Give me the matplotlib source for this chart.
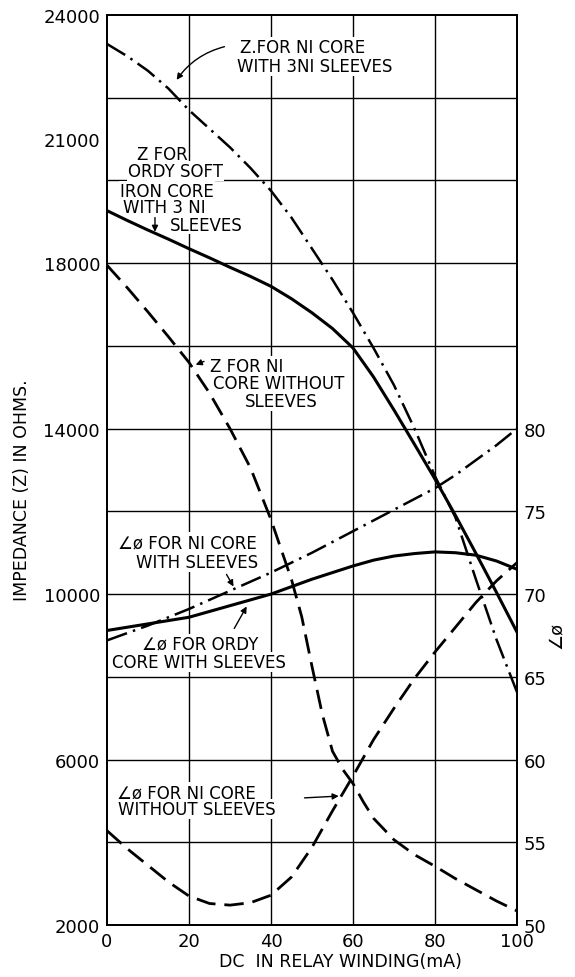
import numpy as np
import matplotlib.pyplot as plt

# DC in relay winding (mA)
ma = [0, 5, 10, 15, 20, 25, 30, 35, 40, 45, 50, 55, 60, 65, 70, 75, 80, 85, 90, 95, 100]

# impedance curves (ohms)
z_ni_3ni = [23300, 23000, 22650, 22220, 21700, 21250, 20800, 20300, 19750, 19100, 18350,
            17600, 16800, 15950, 15050, 14000, 12850, 11850, 10350, 8900, 7630]
z_ordy_3ni = [19270, 19030, 18800, 18580, 18350, 18130, 17900, 17680, 17440, 17140, 16800,
              16420, 15950, 15250, 14450, 13620, 12780, 11900, 10980, 10040, 9080]
ma_ni_bare = [0, 5, 10, 15, 20, 25, 30, 35, 40, 45, 47.5, 50, 52.5, 55, 57.5, 60, 62.5, 65,
              70, 75, 80, 85, 90, 95, 100]
z_ni_bare = [17950, 17400, 16820, 16220, 15600, 14860, 14000, 13050, 11800, 10350, 9450, 8250,
             7100, 6200, 5760, 5420, 4980, 4580, 4060, 3700, 3420, 3120, 2850, 2580, 2340]

# phase angle curves (degrees)
ang_ni_sl = [67.2, 67.65, 68.1, 68.6, 69.1, 69.65, 70.2, 70.75, 71.3, 71.9, 72.5,
             73.15, 73.8, 74.45, 75.1, 75.75, 76.4, 77.2, 78.1, 79.0, 80.0]
ang_ordy_sl = [67.8, 68.0, 68.2, 68.4, 68.6, 68.95, 69.3, 69.65, 70.0, 70.45, 70.9,
               71.3, 71.7, 72.05, 72.3, 72.45, 72.55, 72.5, 72.35, 72.0, 71.5]
ang_ni_bare = [55.7, 54.6, 53.6, 52.6, 51.75, 51.3, 51.2, 51.35, 51.8, 52.9, 54.7,
               56.9, 59.0, 61.2, 63.1, 64.9, 66.5, 68.0, 69.5, 70.8, 71.9]

z_ticks = [2000, 6000, 10000, 14000, 18000, 21000, 24000]
ang_ticks = [50, 55, 60, 65, 70, 75, 80]
ma_ticks = [0, 20, 40, 60, 80, 100]

plt.rcParams['font.family'] = ['DejaVu Sans']

fig = plt.figure(figsize=(5.75, 9.78), dpi=100)
ax = fig.add_axes([107 / 575, 52 / 978, 410 / 575, 910 / 978])
ax.set_xlim(0, 100)
ax.set_ylim(2000, 24000)

# grid
for v in range(4000, 24000, 2000):
    ax.axhline(v, color='black', lw=1.0, zorder=1)
for v in range(20, 100, 20):
    ax.axvline(v, color='black', lw=1.0, zorder=1)

dashdot = (0, (8.5, 2.5, 1, 2.5))
dashed = (0, (7, 3.2))

ax.plot(ma, z_ni_3ni, color='black', lw=1.8, linestyle=dashdot, zorder=3)
ax.plot(ma, z_ordy_3ni, color='black', lw=2.2, zorder=3)
ax.plot(ma_ni_bare, z_ni_bare, color='black', lw=2.0, linestyle=dashed, zorder=3)

ax.set_xticks(ma_ticks)
ax.set_yticks(z_ticks)
ax.tick_params(length=0, labelsize=13, pad=5)
for s in ax.spines.values():
    s.set_linewidth(1.3)

ax2 = ax.twinx()
ax2.set_ylim(50, 105)
ax2.plot(ma, ang_ni_sl, color='black', lw=1.8, linestyle=dashdot)
ax2.plot(ma, ang_ordy_sl, color='black', lw=2.2)
ax2.plot(ma, ang_ni_bare, color='black', lw=2.0, linestyle=dashed)
ax2.set_yticks(ang_ticks)
ax2.tick_params(length=0, labelsize=13, pad=5)
for s in ax2.spines.values():
    s.set_linewidth(1.3)

# curve notes (one text per line, as lettered on the drawing)
notes = [
    ("Z.FOR NI CORE", 32.4, 23230),
    ("WITH 3NI SLEEVES", 31.7, 22770),
    ("Z FOR", 7.3, 20640),
    ("ORDY SOFT", 5.1, 20230),
    ("IRON CORE", 3.2, 19750),
    ("WITH 3 NI", 3.9, 19360),
    ("SLEEVES", 15.4, 18930),
    ("Z FOR NI", 25.1, 15517),
    ("CORE WITHOUT", 25.9, 15106),
    ("SLEEVES", 33.7, 14670),
    ("∠ø FOR NI CORE", 2.7, 11260),
    ("WITH SLEEVES", 7.1, 10777),
    ("∠ø FOR ORDY", 8.5, 8795),
    ("CORE WITH SLEEVES", 1.2, 8360),
    ("∠ø FOR NI CORE", 2.4, 5216),
    ("WITHOUT SLEEVES", 2.7, 4805),
]
for txt, x, y in notes:
    ax.text(x, y, txt, ha='left', va='center', fontsize=12, zorder=2,
            bbox=dict(facecolor='white', edgecolor='none', pad=0.5))

arrows = [
    ((29.3, 23250), (16.6, 22377), 0.2),
    ((11.7, 19170), (11.7, 18690), 0.0),
    ((24.3, 15650), (21.0, 15520), 0.0),
    ((28.8, 10535), (31.2, 10125), 0.0),
    ((30.7, 9110), (34.4, 9760), 0.0),
    ((47.5, 5070), (57.2, 5120), 0.0),
]
for tail, head, rad in arrows:
    ax.annotate('', xy=head, xytext=tail, zorder=4,
                arrowprops=dict(arrowstyle='-|>', color='black', lw=1.0,
                                mutation_scale=9,
                                connectionstyle='arc3,rad=%s' % rad))

fig.text(22 / 575, 1 - 490 / 978, 'IMPEDANCE (Z) IN OHMS.', rotation=90,
         ha='center', va='center', fontsize=12.5)
fig.text(340 / 575, 1 - 962 / 978, 'DC  IN RELAY WINDING(mA)',
         ha='center', va='center', fontsize=12.5)
fig.text(556 / 575, 1 - 635 / 978, '∠ø', rotation=90,
         ha='center', va='center', fontsize=13)

fig.savefig('out.png', dpi=100)
